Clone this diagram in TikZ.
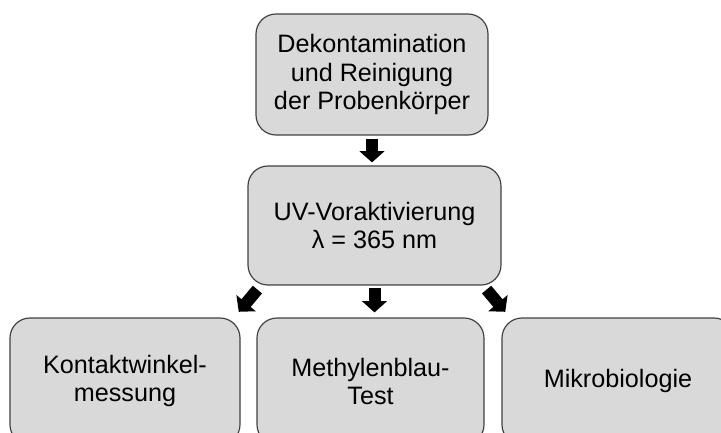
\documentclass[tikz,border=0pt]{standalone}
\usepackage{fontspec}
\setmainfont{Liberation Sans}
\usetikzlibrary{arrows.meta, positioning}

\tikzset{
  stepbox/.style = {draw = black!75, line width = 1pt, fill = black!15, rounded corners = 0.6cm,
    align = center, inner sep = 0pt, font = \fontsize{21.5}{24}\selectfont},
  flowarrow/.style = {line width = 0.36cm, -{Triangle[width = 0.74cm, length = 0.34cm]}}
}

\begin{document}
\begin{tikzpicture}

\useasboundingbox ( 0, 0 ) rectangle ( 21.63, 12.96 );

% Boxes
\node [stepbox, minimum width = 6.96cm, minimum height = 3.63cm] (clean) at ( 11.16, 10.725 ) {Dekontamination\\und Reinigung\\der Probenkörper};
\node [stepbox, minimum width = 7.59cm, minimum height = 3.57cm] (uv) at ( 11.235, 6.195 ) {UV-Voraktivierung\\λ = 365 nm};
\node [stepbox, minimum width = 6.9cm, minimum height = 3.8cm] (contact) at ( 3.75, 1.52 ) {Kontaktwinkel-\\messung};
\node [stepbox, minimum width = 6.81cm, minimum height = 3.8cm] (blue) at ( 11.115, 1.52 ) {Methylenblau-\\Test};
\node [stepbox, minimum width = 6.96cm, minimum height = 3.8cm] (micro) at ( 18.54, 1.52 ) {Mikrobiologie};

% Arrows
\draw [flowarrow, shorten <= 0.09cm, shorten >= 0.09cm] (clean.south) -- (clean.south |- uv.north);
\draw [flowarrow, shorten <= 0.06cm, shorten >= 0.15cm] (uv.south) -- (uv.south |- blue.north);
\draw [flowarrow] ([shift = {( 0.3, -0.12 )}] uv.south west) -- ++( -130 : 0.87 );
\draw [flowarrow] ([shift = {( -0.45, -0.12 )}] uv.south east) -- ++( -50 : 0.87 );

\end{tikzpicture}
\end{document}
